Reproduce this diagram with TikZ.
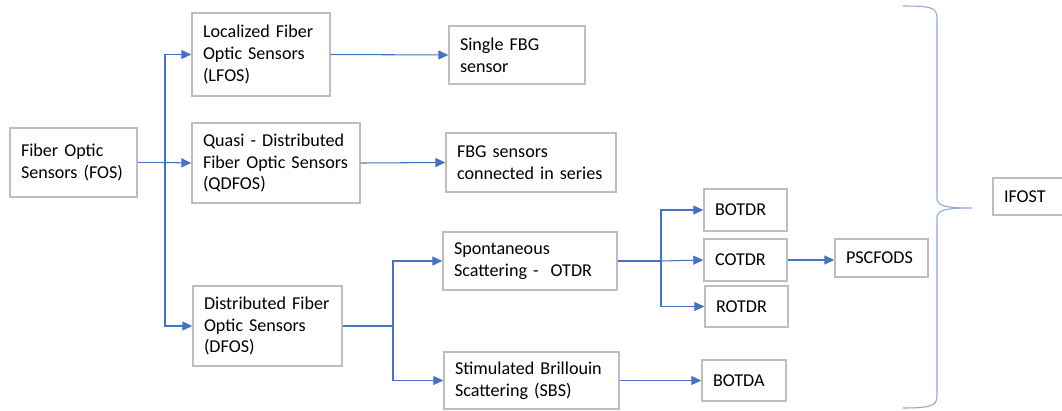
\documentclass[tikz,border=0pt]{standalone}
\usepackage{fontspec}
\setmainfont{Carlito}
\usetikzlibrary{arrows.meta}
\definecolor{linkblue}{RGB}{68,114,196}
\definecolor{bracecol}{RGB}{140,168,218}
\definecolor{boxline}{RGB}{190,190,190}
\tikzset{
  blk/.style={draw=boxline,line width=0.8pt,align=left,inner xsep=0.22cm,inner ysep=0pt,
    font=\fontsize{10.3}{12.5}\selectfont},
  box/.style n args={3}{blk,minimum width=#1,minimum height=#2,text width=#3},
  ln/.style={linkblue,line width=0.6pt},
  ar/.style={ln,-{Triangle[length=2mm,width=1.8mm]}},
}

\begin{document}
\begin{tikzpicture}[x=0.02cm,y=-0.02cm]
  \useasboundingbox (0,0) rectangle (1062,410);
  \clip (0,0) rectangle (1062,410);
  % sensor families
  \node[box={2.54cm}{1.38cm}{2.10cm}] (fos) at (73.5,162.5) {Fiber Optic\\Sensors (FOS)};
  \node[box={2.76cm}{1.66cm}{2.32cm}] (lfos) at (261,54.5) {Localized Fiber\\Optic Sensors\\(LFOS)};
  \node[box={3.36cm}{1.60cm}{2.92cm}] (qdfos) at (276,163) {Quasi - Distributed\\Fiber Optic Sensors\\(QDFOS)};
  \node[box={2.98cm}{1.60cm}{2.54cm}] (dfos) at (267.5,326) {Distributed Fiber\\Optic Sensors\\(DFOS)};
  % second level
  \node[box={2.72cm}{1.16cm}{2.28cm}] (single) at (517,55) {Single FBG\\sensor};
  \node[box={3.40cm}{1.18cm}{2.96cm}] (series) at (531,162.5) {FBG sensors\\connected in series};
  \node[box={3.48cm}{1.16cm}{3.04cm}] (spont) at (530,261) {Spontaneous\\Scattering -\ \ OTDR};
  \node[box={3.50cm}{1.14cm}{3.06cm}] (stim) at (531.5,380.5) {Stimulated Brillouin\\Scattering (SBS)};
  % techniques
  \node[box={1.66cm}{0.84cm}{1.22cm}] (botdr) at (745.5,210) {BOTDR};
  \node[box={1.66cm}{0.84cm}{1.22cm}] (cotdr) at (745.5,260) {COTDR};
  \node[box={1.66cm}{0.82cm}{1.22cm}] (rotdr) at (746.5,306.5) {ROTDR};
  \node[box={1.68cm}{0.82cm}{1.24cm}] (botda) at (744,380.5) {BOTDA};
  \node[box={1.86cm}{0.76cm}{1.42cm}] (pscfods) at (881.5,258) {PSCFODS};
  \node[box={1.60cm}{0.74cm}{1.16cm}] (ifost) at (1033,196.5) {IFOST};

  % branch points
  \coordinate (s1) at (165,162.5);
  \coordinate (s2) at (393,326);
  \coordinate (s3) at (661,261);

  \draw[ln] (fos.east) -- (s1);
  \draw[ar] (s1) |- (lfos.west);
  \draw[ar] (s1) -- (qdfos.west);
  \draw[ar] (s1) |- (dfos.west);
  \draw[ar] (lfos.east) -- (single.west);
  \draw[ar] (qdfos.east) -- (series.west);

  \draw[ln] (dfos.east) -- (s2);
  \draw[ar] (s2) |- (spont.west);
  \draw[ar] (s2) |- (stim.west);

  \draw[ln] (spont.east) -- (s3);
  \draw[ar] (s3) |- (botdr.west);
  \draw[ar] (s3) -- (cotdr.west);
  \draw[ar] (s3) |- (rotdr.west);
  \draw[ar] (stim.east) -- (botda.west);
  \draw[ar] (cotdr.east) -- (cotdr.east -| pscfods.west);

  % curly brace
  \draw[bracecol,line width=0.6pt] (903,6) .. controls (930,6) and (937,7) .. (937,18)
    -- (937,198) .. controls (937,206) and (945,208) .. (972,208)
    .. controls (945,208) and (937,210) .. (937,218)
    -- (937,396) .. controls (937,406) and (930,408) .. (903,408);
\end{tikzpicture}
\end{document}
